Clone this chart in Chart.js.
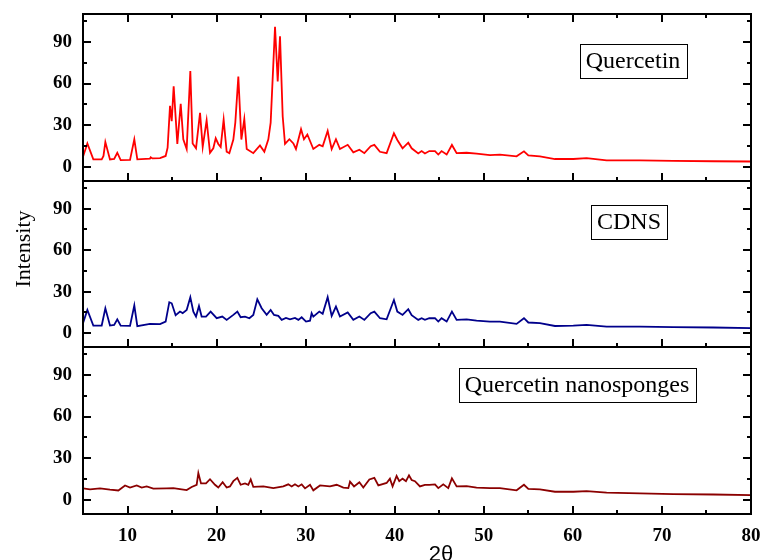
<!DOCTYPE html>
<html lang="en">
<head>
    <meta charset="UTF-8">
    <title>XRD patterns</title>
    <script src="https://cdn.jsdelivr.net/npm/chart.js"></script>
    <style>
        html, body { margin: 0; background: #fff; }
        .wrap { position: relative; width: 760px; height: 560px; overflow: hidden; }
        .wrap canvas { position: absolute; left: 0; top: 0; }
    </style>
</head>
<body>
<div class="wrap">
    <canvas id="panel1" width="760" height="560"></canvas>
    <canvas id="panel2" width="760" height="560"></canvas>
    <canvas id="panel3" width="760" height="560"></canvas>
</div>
<script>
    // Quercetin (top panel)
    const quercetinAngle = [5, 5.49, 6.16, 7.1, 7.3, 7.51, 8.03, 8.5, 8.85, 9.23, 10.28, 10.76, 11.1, 12.52, 12.6, 12.8,
        13.65, 14.28, 14.5, 14.77, 14.96, 15.18, 15.4, 15.59, 15.97, 16.26, 16.64, 17.05, 17.31, 17.69, 18.14, 18.44,
        18.88, 19.26, 19.63, 19.9, 20.19, 20.46, 20.79, 21.13, 21.43, 21.88, 22.1, 22.44, 22.78, 23.11, 23.38, 24.12,
        24.87, 25.36, 25.81, 26.07, 26.56, 26.86, 27.12, 27.42, 27.68, 28.17, 28.62, 28.91, 29.48, 29.81, 30.19, 30.86,
        31.53, 31.91, 32.47, 32.92, 33.4, 33.85, 34.72, 35.35, 36.03, 36.59, 37.3, 37.71, 38.34, 39.09, 39.91, 40.29,
        40.88, 41.52, 41.9, 42.64, 43.02, 43.39, 43.88, 44.52, 44.89, 45.26, 45.83, 46.42, 46.95, 48.07, 49.19, 50.69,
        51.81, 53.68, 54.51, 55.0, 56.3, 57.99, 60.05, 61.54, 63.79, 67.53, 71.27, 75.76, 80];
    const quercetinIntensity = [7.4, 17, 5.5, 5.5, 8, 18, 5.5, 5.8, 10.3, 5, 5.2, 20, 5.5, 6, 7, 6.2,
        6.5, 8, 14, 44, 33, 58, 36, 16.6, 45.5, 20, 13, 69, 17, 13.5, 39, 14.5,
        33.5, 10.3, 13.5, 20.7, 16.6, 14.5, 34, 11, 10, 19.8, 32, 65, 19.8, 34.5, 13, 10,
        15.6, 11, 20, 32, 100.8, 61.5, 94, 36.5, 16.6, 20, 17, 13, 27.2, 20, 23.4, 13,
        16, 15, 26, 13, 20, 13, 16, 10.6, 12.5, 10, 15, 16, 11, 10, 24.3, 19.5,
        13.5, 17.5, 13.5, 9.8, 11.5, 9.8, 11.5, 11.5, 9, 11.5, 9, 15.9, 10, 10.3, 9.6, 8.6,
        8.9, 7.7, 11.3, 8.4, 7.7, 5.8, 5.8, 6.5, 4.8, 4.8, 4.4, 4.2, 4];

    // CDNS (middle panel)
    const cdnsAngle = [5, 5.49, 6.16, 7.1, 7.51, 8.03, 8.5, 8.85, 9.23, 10.28, 10.76, 11.1, 12.52, 13.65, 14.28, 14.69,
        14.96, 15.4, 15.89, 16.19, 16.64, 17.05, 17.39, 17.69, 18.02, 18.32, 18.81, 19.33, 20.01, 20.64, 21.13, 21.88,
        22.33, 22.7, 23.19, 23.68, 24.12, 24.57, 25.06, 25.62, 26.07, 26.45, 26.93, 27.31, 27.79, 28.24, 28.8, 29.18,
        29.55, 30.04, 30.49, 30.67, 30.86, 31.53, 31.91, 32.47, 32.92, 33.4, 33.85, 34.72, 35.35, 36.03, 36.59, 37.3,
        37.71, 38.35, 39.09, 39.91, 40.29, 40.88, 41.52, 41.9, 42.64, 43.02, 43.39, 43.88, 44.52, 44.89, 45.26, 45.83,
        46.42, 46.95, 48.07, 49.19, 50.69, 51.81, 53.68, 54.51, 55.0, 56.3, 57.99, 60.05, 61.54, 63.79, 67.53, 71.27,
        75.76, 80];
    const cdnsIntensity = [7.2, 16.8, 5.5, 5.5, 18, 5.5, 6, 10, 5.5, 5.3, 20, 5, 6.7, 6.5, 8.4, 22.4,
        21.6, 13, 15.6, 14.5, 16.8, 26, 15.6, 12, 19.7, 12, 12, 15.6, 10.8, 12, 9.6, 13.2,
        15.6, 11.5, 12, 10.8, 13.2, 24.5, 18, 13.2, 16.8, 13.2, 12.5, 9.6, 11, 10, 11, 9.6,
        11.5, 8.4, 9, 14.4, 12, 15.6, 14, 26, 12.5, 19.2, 12, 15, 9.6, 12, 9.6, 14.4,
        15.6, 10.8, 10, 24, 15.6, 13.2, 17.3, 13, 9.6, 10.8, 9.6, 10.8, 10.8, 8.4, 10.8, 8.4,
        15.6, 9.6, 10, 9, 8.4, 8.4, 6.7, 10.8, 7.7, 7.2, 5.2, 5.5, 6, 4.8, 4.8, 4.3,
        4.1, 3.6];

    // Quercetin nanosponges (bottom panel)
    const nanoAngle = [5, 5.79, 6.91, 8.03, 8.97, 9.72, 10.28, 11.03, 11.59, 12.15, 12.9, 14.39, 15.14, 15.89, 16.64, 17.2,
        17.76, 17.95, 18.25, 18.81, 19.26, 19.82, 20.19, 20.68, 21.13, 21.5, 21.88, 22.33, 22.7, 23.19, 23.56, 23.83,
        24.12, 25.25, 26.37, 27.49, 28.05, 28.43, 28.8, 29.18, 29.55, 29.93, 30.49, 30.86, 31.61, 32.73, 33.48, 34.23,
        34.79, 34.98, 35.43, 36.03, 36.47, 37.15, 37.71, 38.16, 39.09, 39.46, 39.76, 40.21, 40.51, 40.88, 41.26, 41.6,
        41.9, 42.27, 42.83, 43.39, 43.88, 44.52, 44.89, 45.45, 46.01, 46.42, 46.95, 48.07, 49.19, 50.69, 51.81, 53.68,
        54.51, 55.0, 56.3, 57.99, 60.05, 61.54, 63.79, 67.53, 71.27, 75.76, 80];
    const nanoIntensity = [8.4, 7.7, 8.4, 7.5, 6.9, 10.5, 9, 10.5, 9, 9.8, 8.2, 8.4, 8.6, 7.9, 7.2, 9.4,
        11, 19.4, 12, 12, 15, 11, 9, 12.8, 9, 9.8, 13.6, 16, 11, 12, 11, 14.8,
        9.5, 9.8, 8.6, 9.8, 11.3, 9.8, 11.3, 9.8, 11.3, 8.4, 11, 7, 10.5, 9.8, 11, 9,
        8.6, 13.2, 9.8, 12.8, 9, 14.8, 16, 10.5, 12.3, 15.4, 9.8, 17.3, 13.6, 15.4, 13.6, 17.8,
        14.4, 13.6, 9.8, 11, 11, 11.3, 8.6, 11.3, 8.6, 15.6, 9.8, 10, 9, 8.6, 8.6, 7,
        11, 8, 7.7, 6, 6, 6.5, 5.3, 4.8, 4.3, 4, 3.6];

    const yTickLabels = [0, 30, 60, 90];
    const xTickLabels = [10, 20, 30, 40, 50, 60, 70, 80];
    const yMinorTicks = [0, 15, 30, 45, 60, 75, 90, 105];
    const xMinorTicks = [10, 15, 20, 25, 30, 35, 40, 45, 50, 55, 60, 65, 70, 75, 80];

    const serif = "'Liberation Serif', 'Times New Roman', serif";

    // рамка, внутренние засечки, подпись в рамке
    const framePlugin = {
        id: 'frame',
        afterDatasetsDraw(chart, args, opts) {
            const { ctx, chartArea: a, scales: { x, y } } = chart;
            ctx.save();
            ctx.strokeStyle = '#000';
            ctx.lineWidth = 2;
            ctx.strokeRect(a.left, a.top, a.right - a.left, a.bottom - a.top);
            ctx.beginPath();
            yMinorTicks.forEach(v => {
                const py = Math.round(y.getPixelForValue(v));
                const len = yTickLabels.includes(v) ? 8 : 4;
                ctx.moveTo(a.left, py); ctx.lineTo(a.left + len, py);
                ctx.moveTo(a.right, py); ctx.lineTo(a.right - len, py);
            });
            xMinorTicks.forEach(v => {
                if (v >= 80) return;
                const px = Math.round(x.getPixelForValue(v));
                const len = xTickLabels.includes(v) ? 8 : 4;
                ctx.moveTo(px, a.bottom); ctx.lineTo(px, a.bottom - len);
                if (opts.topTicks) { ctx.moveTo(px, a.top); ctx.lineTo(px, a.top + len); }
            });
            ctx.stroke();

            // label box
            ctx.font = '24px ' + serif;
            ctx.textAlign = 'center';
            ctx.textBaseline = 'middle';
            const w = ctx.measureText(opts.label).width + 12;
            const h = 34;
            ctx.fillStyle = '#fff';
            ctx.fillRect(opts.boxX - w / 2, opts.boxY - h / 2, w, h);
            ctx.lineWidth = 1;
            ctx.strokeRect(Math.round(opts.boxX - w / 2) + 0.5, Math.round(opts.boxY - h / 2) + 0.5, Math.round(w), h);
            ctx.fillStyle = '#000';
            ctx.fillText(opts.label, opts.boxX, opts.boxY + 1);

            if (opts.yTitle) {
                ctx.save();
                ctx.translate(24, 249);
                ctx.rotate(-Math.PI / 2);
                ctx.font = '22px ' + serif;
                ctx.fillText(opts.yTitle, 0, 0);
                ctx.restore();
            }
            if (opts.xTitle) {
                ctx.font = "22px 'Liberation Sans', Arial, sans-serif";
                ctx.textBaseline = 'alphabetic';
                ctx.fillText(opts.xTitle, 441, 561);
            }
            ctx.restore();
        }
    };

    // убираем авто-отступы под крайние подписи
    function noPadding(s) {
        s.paddingTop = 0;
        s.paddingBottom = 0;
        s.paddingLeft = 0;
        s.paddingRight = 0;
    }

    function makePanel(id, angles, values, color, padTop, padBottom, showX, frameOpts) {
        const points = angles.map((a, i) => ({ x: a, y: values[i] }));
        return new Chart(document.getElementById(id), {
            type: 'line',
            data: {
                datasets: [{
                    data: points,
                    borderColor: color,
                    borderWidth: 1.8,
                    pointRadius: 0,
                    tension: 0,
                    fill: false
                }]
            },
            options: {
                responsive: false,
                animation: false,
                layout: { padding: { left: 0, right: 9, top: padTop, bottom: padBottom } },
                plugins: {
                    legend: { display: false },
                    tooltip: { enabled: false },
                    frame: frameOpts
                },
                scales: {
                    x: {
                        type: 'linear',
                        display: showX,
                        min: 5,
                        max: 80,
                        grid: { display: false },
                        border: { display: false },
                        afterBuildTicks: s => { s.ticks = xMinorTicks.map(v => ({ value: v })); },
                        afterFit: s => { s.height = showX ? 46 : 0; noPadding(s); },
                        ticks: {
                            autoSkip: false,
                            maxRotation: 0,
                            padding: 3,
                            color: '#000',
                            font: { family: serif, size: 19, weight: 'bold' },
                            callback: v => xTickLabels.includes(v) ? v : ''
                        }
                    },
                    y: {
                        min: -10,
                        max: 110,
                        grid: { display: false, drawTicks: false },
                        border: { display: false },
                        afterBuildTicks: s => { s.ticks = yMinorTicks.map(v => ({ value: v })); },
                        afterFit: s => { s.width = 83; noPadding(s); },
                        ticks: {
                            padding: 11,
                            color: '#000',
                            font: { family: serif, size: 19, weight: 'bold' },
                            callback: v => yTickLabels.includes(v) ? v : ''
                        }
                    }
                }
            },
            plugins: [framePlugin]
        });
    }

    makePanel('panel1', quercetinAngle, quercetinIntensity, '#ff0000', 14, 379, false,
        { topTicks: true, label: 'Quercetin', boxX: 633, boxY: 61 });
    makePanel('panel2', cdnsAngle, cdnsIntensity, '#00008b', 181, 213, false,
        { label: 'CDNS', boxX: 629, boxY: 222, yTitle: 'Intensity' });
    makePanel('panel3', nanoAngle, nanoIntensity, '#8b0000', 347, 0, true,
        { label: 'Quercetin nanosponges', boxX: 577, boxY: 385, xTitle: '2θ' });
</script>
</body>
</html>
